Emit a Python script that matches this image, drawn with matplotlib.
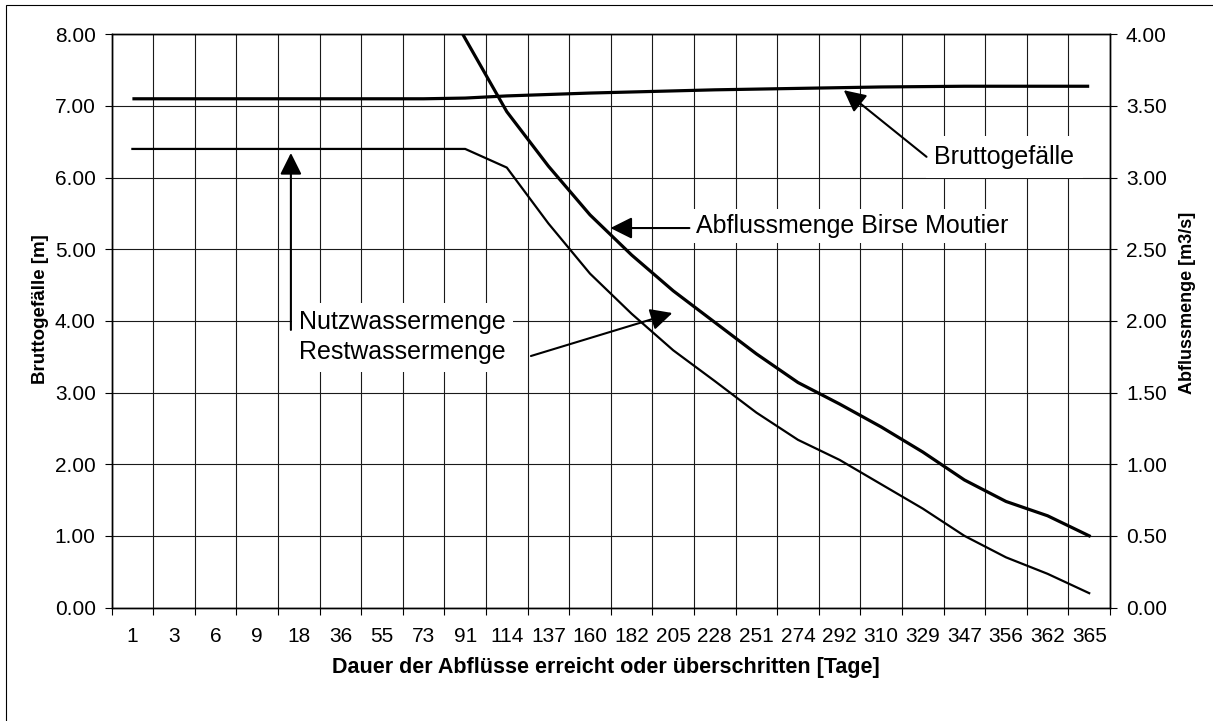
import numpy as np
import matplotlib
matplotlib.use("Agg")
import matplotlib.pyplot as plt
from matplotlib.patches import Rectangle

plt.rcParams['font.family'] = ['Liberation Sans', 'DejaVu Sans']

# Dauer der Abfluesse [Tage] (Kategorien)
tage = ['1', '3', '6', '9', '18', '36', '55', '73', '91', '114', '137', '160', '182',
        '205', '228', '251', '274', '292', '310', '329', '347', '356', '362', '365']
# Bruttogefaelle [m] (linke Achse)
brutto = [7.10, 7.10, 7.10, 7.10, 7.10, 7.10, 7.10, 7.10, 7.11, 7.14, 7.16, 7.18,
          7.195, 7.21, 7.225, 7.235, 7.245, 7.255, 7.265, 7.27, 7.275, 7.275, 7.275, 7.275]
# Abflussmenge Birse Moutier [m3/s] (rechte Achse), Anfang ausserhalb des Diagramms
birse = [np.nan, np.nan, np.nan, np.nan, np.nan, np.nan, np.nan, 4.50, 3.97, 3.46,
         3.08, 2.74, 2.46, 2.21, 1.99, 1.77, 1.57, 1.42, 1.26, 1.085, 0.89, 0.74, 0.64, 0.50]
# Nutzwassermenge [m3/s] (rechte Achse)
nutz = [3.20, 3.20, 3.20, 3.20, 3.20, 3.20, 3.20, 3.20, 3.20, 3.07, 2.68, 2.33,
        2.05, 1.795, 1.58, 1.36, 1.17, 1.03, 0.86, 0.69, 0.50, 0.35, 0.235, 0.10]

W, H = 1213, 721
fig = plt.figure(figsize=(W / 100, H / 100), dpi=100)
ax = fig.add_axes([111.6 / W, (H - 607.5) / H, (1110 - 111.6) / W, (607.5 - 34.3) / H])
ax2 = ax.twinx()

x = np.arange(len(tage))
n = len(tage)

# Rahmen des Diagrammbereichs
fig.patches.append(Rectangle((6 / W, -0.05), 1.2, 1.05 - 5 / H, transform=fig.transFigure,
                             fill=False, edgecolor='black', lw=0.8))

ax.plot(x, brutto, color='black', lw=2.3, solid_capstyle='butt', zorder=3)
ax2.plot(x, birse, color='black', lw=2.3, zorder=3)
ax2.plot(x, nutz, color='black', lw=1.6, zorder=3)

ax.set_xlim(-0.5, n - 0.5)
ax.set_ylim(0, 8)
ax2.set_ylim(0, 4)
ax.set_yticks(np.arange(0, 8.01, 1))
ax.set_yticklabels(['%.2f' % v for v in np.arange(0, 8.01, 1)])
ax2.set_yticks(np.arange(0, 4.01, 0.5))
ax2.set_yticklabels(['%.2f' % v for v in np.arange(0, 4.01, 0.5)])
ax.set_xticks(x)
ax.set_xticklabels(tage)
ax.set_xticks(np.arange(-0.5, n, 1), minor=True)

ax.tick_params(axis='x', which='major', length=0, pad=14, labelsize=15)
ax.tick_params(axis='x', which='minor', length=5, width=0.8, direction='out')
ax.tick_params(axis='y', length=5, width=0.8, pad=6.5, labelsize=15)
ax2.tick_params(axis='y', length=5, width=0.8, pad=6.5, labelsize=15)

ax.grid(True, which='minor', axis='x', color='0.1', lw=0.8)
ax.grid(True, which='major', axis='y', color='0.1', lw=0.8)
ax.set_axisbelow(True)
for a in (ax, ax2):
    for s in a.spines.values():
        s.set_linewidth(1.0)

fig.text(41 / W, 1 - 309 / H, 'Bruttogefälle [m]', rotation=90, ha='center', va='center',
         fontsize=13.5, fontweight='bold')
fig.text(1188 / W, 1 - 303 / H, 'Abflussmenge [m3/s]', rotation=90, ha='center', va='center',
         fontsize=13, fontweight='bold')
fig.text(606 / W, 1 - 668 / H, 'Dauer der Abflüsse erreicht oder überschritten [Tage]',
         ha='center', va='center', fontsize=15.5, fontweight='bold')

# Beschriftungen mit Pfeilen
pfeil = dict(arrowstyle='-|>,head_length=0.6,head_width=0.3', color='black', lw=1.5,
             mutation_scale=22, shrinkA=0, shrinkB=0)
box = dict(facecolor='white', edgecolor='none', boxstyle='square,pad=0.35')

ax2.annotate('', xy=(17.1, 3.61), xytext=(19.09, 3.145), arrowprops=pfeil, zorder=5)
ax2.text(19.28, 3.145, 'Bruttogefälle', fontsize=18, va='center', ha='left', bbox=box, zorder=4)

ax2.annotate('', xy=(11.49, 2.648), xytext=(13.39, 2.648), arrowprops=pfeil, zorder=5)
ax2.text(13.56, 2.662, 'Abflussmenge Birse Moutier', fontsize=18, va='center', ha='left',
         bbox=dict(facecolor='white', edgecolor='none', boxstyle='square,pad=0.2'), zorder=4)

ax2.annotate('', xy=(3.81, 3.172), xytext=(3.81, 1.937), arrowprops=pfeil, zorder=5)
ax2.annotate('', xy=(12.98, 2.055), xytext=(9.58, 1.755), arrowprops=pfeil, zorder=5)
ax2.text(4.01, 1.887, 'Nutzwassermenge\nRestwassermenge', fontsize=18, va='center', ha='left',
         linespacing=1.32, bbox=dict(facecolor='white', edgecolor='none', boxstyle='square,pad=0.3'),
         zorder=4)

fig.savefig('out.png', dpi=100)
